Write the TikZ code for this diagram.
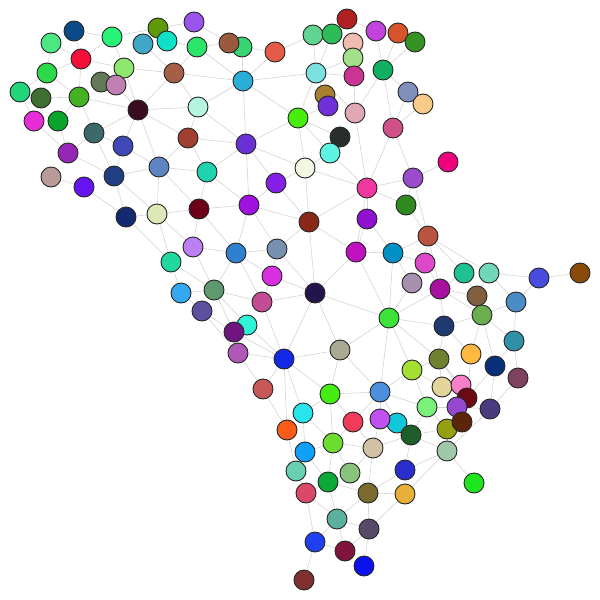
\documentclass[tikz,border=0pt]{standalone}
\usepackage{tikz}
\usetikzlibrary{backgrounds}
\usepackage{xcolor}

\begin{document}
\begin{tikzpicture}[
    x=1pt, y=-1pt,
    vert/.style = {circle, draw=black!85, line width=0.9pt, minimum size=20pt, inner sep=0pt},
    link/.style = {draw=black!17, line width=0.6pt}
]
\useasboundingbox (0,0) rectangle (600,600);

% Nodes
\foreach \i/\x/\y/\c in {
  1/74/31/0A4A86, 2/51/43/4BE882, 3/112/37/28F47A, 4/158/28/5E9A0A, 5/194/22/9B55EE,
  6/143/44/40A8C4, 7/167/41/0FE0C8, 8/197/47/2CE66C, 9/81/59/F20F3A, 10/47/73/2DD84A,
  11/124/68/8EE870, 12/101/82/637A5A, 13/116/85/C080B0, 14/174/73/A65E46, 15/20/92/22D47A,
  16/41/98/3F6E33, 17/79/97/44B222, 18/138/110/3A0C22, 19/198/107/B4F5E0, 20/34/121/E82CD6,
  21/58/121/08A42A, 22/94/133/3C6A68, 23/123/146/3E48B6, 24/188/138/A04030, 25/68/153/9626B6,
  26/159/167/5E84C2, 27/207/172/1FD2B0, 28/51/177/B89A96, 29/84/187/6614F0, 30/114/176/1E4080,
  31/242/47/38D672, 138/229/43/9A5A3E, 32/275/52/E45C48, 33/243/81/2AAED8, 34/313/35/60D490,
  35/332/34/2CBC58, 36/347/19/B02020, 37/353/43/F0BCB0, 38/353/58/A2E08A, 39/376/31/C244DC,
  40/398/33/D8542A, 41/415/42/339222, 42/316/73/7CE0E0, 43/354/76/CC3494, 44/383/70/10B060,
  45/325/95/A68030, 46/328/106/7030D8, 47/355/113/E0A8B4, 48/408/92/8090BC, 49/423/104/F8CC88,
  50/393/128/D05088, 51/298/118/48EE0A, 52/340/137/282E2E, 53/330/153/5EF4E4, 54/246/144/6A30D8,
  55/305/168/F0F8E0, 56/276/183/8420E8, 57/367/188/F038A0, 58/448/162/F0007C, 59/413/178/9A4CCC,
  60/406/205/2E8A1E, 61/249/205/A010E0, 62/199/209/6C0018, 63/309/222/8A2818, 64/367/219/9010D0,
  65/157/214/DCE8B8, 66/126/217/142A70, 67/193/247/BC80F4, 68/236/253/3080D0, 69/277/249/7890B0,
  70/356/252/C010C0, 71/393/253/0090C8, 72/428/236/B85440, 73/425/263/DC48C8, 74/171/262/20D8A0,
  75/272/276/D830DC, 76/214/290/5E9A6E, 77/181/293/34A8F0, 78/202/311/5C50A0, 79/262/302/C44C94,
  80/315/293/24144C, 81/247/325/30F4D8, 82/234/332/701480, 83/238/353/B058B8, 84/284/359/1428E8,
  85/340/350/AAAA94, 86/389/318/3CE43A, 87/263/389/C85858, 88/330/394/44EE10, 89/380/392/4A90DC,
  90/412/283/A890B0, 91/440/289/A810A0, 92/464/273/20C090, 93/489/273/70D8B8, 94/539/278/4A4CE0,
  95/580/273/8A4A08, 96/477/296/825E40, 97/516/302/4C8CC4, 98/482/315/6AAE50, 99/444/326/1E3A70,
  100/514/341/3090A8, 101/439/359/708030, 102/471/354/FFB840, 103/495/366/08307A, 104/518/378/804060,
  105/412/370/A4E030, 106/442/387/E4D498, 107/461/385/F880C8, 108/467/398/6C0A14, 109/427/407/7AF27A,
  110/457/407/9448D0, 111/490/409/4A3A80, 113/447/429/94A010, 112/462/422/5C2408, 114/397/423/10C8D8,
  115/411/435/1E5E28, 116/447/451/A0C8A8, 117/405/470/2A2ECC, 118/405/494/E8B038, 119/474/483/1EE61E,
  120/303/413/28E4EC, 121/287/430/F85C18, 122/353/422/F03C58, 123/380/419/C050F0, 124/333/443/6CDC30,
  125/373/448/D4C0A4, 126/305/452/10A0F8, 127/296/471/68D0B0, 128/350/473/88C47C, 129/328/482/0CA838,
  130/306/493/DC4868, 131/368/493/7A6C2C, 132/337/519/5CB0A0, 133/369/529/564A68, 134/315/542/2040F0,
  135/345/551/80143C, 136/364/566/0C10EC, 137/304/580/80302E}
{
  \definecolor{vcol}{HTML}{\c}
  \node (v\i) [vert, fill=vcol] at (\x,\y) {};
}

% Connections
\begin{scope}[on background layer]
\foreach \a/\b in {
  1/3, 1/9, 2/9, 2/10, 9/3, 9/10, 9/17, 9/11, 3/11, 3/4, 4/5, 4/7, 7/8, 6/14, 11/14, 11/18,
  13/18, 14/18, 14/8, 14/19, 14/33, 18/19, 17/18, 18/22, 18/23, 18/26, 18/24, 10/15, 10/16,
  10/17, 15/20, 16/17, 17/21, 17/22, 21/25, 20/25, 22/25, 22/30, 22/23, 23/26, 23/30, 25/30,
  28/29, 30/26, 26/24, 26/65, 26/62, 26/27, 24/27, 24/54, 24/19, 29/66, 30/66, 30/65,
  5/138, 8/138, 8/33, 31/33, 31/32, 32/33, 33/42, 33/19, 33/54, 33/51, 34/42, 34/32, 35/42,
  38/42, 43/42, 42/51, 42/45, 42/47, 43/47, 44/39, 44/40, 44/41, 44/50, 44/47, 44/48, 35/36,
  36/39, 46/51, 51/52, 51/53, 51/54, 51/55, 54/19, 54/27, 54/56, 54/55, 54/61, 56/55, 55/57,
  55/63, 47/57, 50/57, 53/55, 53/57, 56/61, 56/63, 48/50, 49/50, 50/59, 58/59, 59/60, 59/57,
  59/72, 57/60, 60/72, 57/64, 57/63, 57/70, 64/70, 64/71,
  27/62, 27/61, 62/65, 62/61, 62/67, 62/68, 65/66, 65/67, 65/74, 66/74, 67/68, 67/76, 74/76,
  74/77, 61/68, 61/63, 61/69, 68/69, 68/76, 68/75, 68/79, 69/63, 69/75, 69/80, 63/70, 63/80,
  70/71, 70/86, 71/86, 71/72, 71/73, 71/90, 75/79, 75/80, 79/80, 76/79, 76/82, 76/81, 77/76,
  77/78, 78/82, 78/83, 79/84, 80/84, 80/85, 80/86, 80/70, 85/86, 85/84, 85/88, 85/89, 86/89,
  81/84, 82/84, 83/84, 83/87, 84/87, 84/88, 84/120, 84/121, 87/121, 88/89,
  72/73, 72/92, 72/93, 72/91, 73/91, 90/86, 91/86, 91/96, 91/99, 91/98, 91/92, 92/96, 93/96,
  93/97, 93/94, 94/95, 94/97, 97/98, 97/100, 98/99, 98/102, 98/103, 98/100, 86/99, 86/101,
  86/105, 99/101, 99/102, 100/103, 100/104, 101/105, 101/106, 101/107, 101/108, 102/108,
  103/108, 103/111, 104/111, 105/109, 105/106, 105/89, 109/89, 109/110, 109/113, 109/115,
  110/111, 115/113, 115/116, 115/117, 115/125, 116/117, 116/118, 116/119, 116/111, 116/113,
  88/120, 88/122, 88/124, 89/122, 89/123, 89/114, 120/126, 120/124, 121/127, 122/124, 122/125,
  124/126, 124/125, 124/129, 124/128, 125/123, 125/128, 125/131, 126/127, 126/129, 127/130,
  129/130, 129/131, 129/132, 130/132, 130/134, 131/132, 131/133, 131/117, 131/118, 132/133,
  132/135, 132/134, 133/135, 133/136, 134/135, 134/137, 133/118}
  \draw [link] (v\a) -- (v\b);
\end{scope}

\end{tikzpicture}
\end{document}
